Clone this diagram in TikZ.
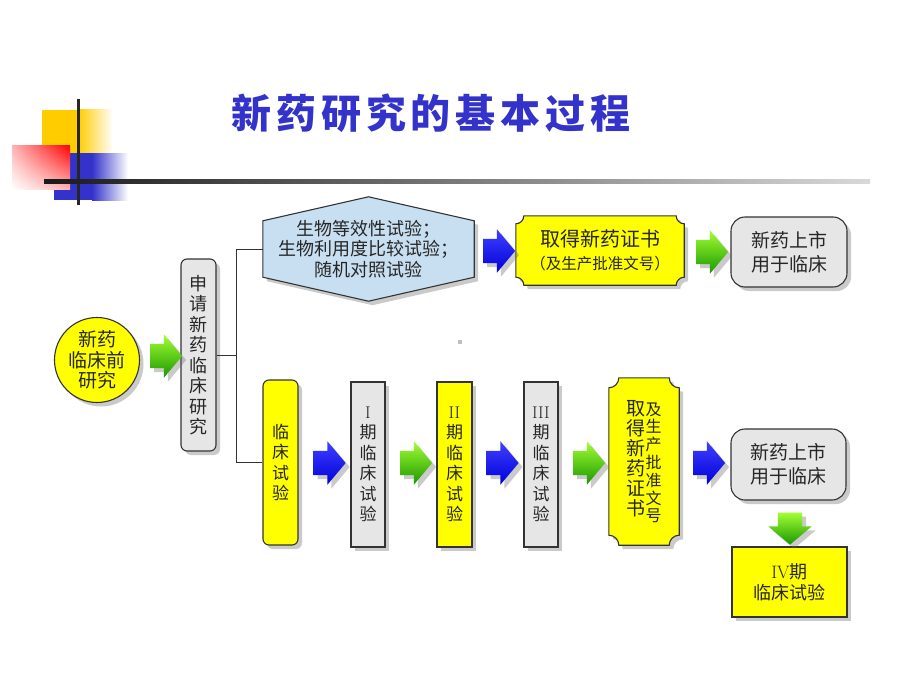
\documentclass[tikz,border=0pt]{standalone}
\usepackage{fontspec}
\newfontfamily\cjk{Noto Sans CJK SC}
\usetikzlibrary{shapes.arrows,shadows,shadings,backgrounds,calc}

\definecolor{boxyellow}{HTML}{FFFF00}
\definecolor{boxgray}{HTML}{E6E6E6}
\definecolor{hexblue}{HTML}{C8DFF2}
\definecolor{titleblue}{HTML}{3333CC}
\definecolor{decoyellow}{HTML}{FFCC00}
\definecolor{decoblue}{HTML}{3333CC}
\definecolor{edge}{HTML}{333333}

\tikzset{
  softshadow/.style={drop shadow={shadow xshift=4pt,shadow yshift=-4pt,opacity=0.35,fill=black!60}},
  box/.style={draw=edge,line width=1.1pt,softshadow,inner sep=0pt,text=black!85,align=center,
    font=\cjk\fontsize{17}{20.5}\selectfont},
  ybox/.style={box,fill=boxyellow},
  gbox/.style={box,fill=boxgray},
  blockarrow/.style={single arrow,minimum height=32pt,single arrow head extend=9.5pt,
    single arrow tip angle=100,inner sep=0pt,text height=12pt,text depth=12pt,softshadow},
  bluearrow/.style={blockarrow,top color=blue!75!white,bottom color=blue!85!black},
  greenarrow/.style={blockarrow,top color=green!45!yellow!80!white,bottom color=green!55!black!90!yellow},
  shapeline/.style={draw=edge,line width=1.1pt,softshadow},
  link/.style={draw=edge,line width=1pt}
}

% Bilhete com cantos concavos
\newcommand{\ticket}[2]{%
  \path[shapeline,fill=boxyellow] let \p1=(#1.north west), \p2=(#1.south east) in
    (\x1+#2,\y1) -- (\x2-#2,\y1)
    .. controls (\x2-#2,\y1-0.55*#2) and (\x2-0.55*#2,\y1-#2) .. (\x2,\y1-#2)
    -- (\x2,\y2+#2)
    .. controls (\x2-0.55*#2,\y2+#2) and (\x2-#2,\y2+0.55*#2) .. (\x2-#2,\y2)
    -- (\x1+#2,\y2)
    .. controls (\x1+#2,\y2+0.55*#2) and (\x1+0.55*#2,\y2+#2) .. (\x1,\y2+#2)
    -- (\x1,\y1-#2)
    .. controls (\x1+0.55*#2,\y1-#2) and (\x1+#2,\y1-0.55*#2) .. cycle;}
\newcommand{\vcol}[3]{\begin{minipage}[t]{#1pt}\centering\fontsize{#1}{#2}\selectfont #3\end{minipage}}

\begin{document}
\begin{tikzpicture}[x=1pt,y=-1pt]
    \useasboundingbox (0,0) rectangle (920,690);

    % Decoracao
    \fill[decoyellow] (42,110) rectangle (78,153);
    \shade[left color=decoyellow,right color=white] (78,110) rectangle (113,153);
    \fill[decoblue] (54,153) rectangle (92,200);
    \shade[left color=decoblue,right color=white] (92,153) rectangle (128,200);
    \shade[upper right=red,upper left=red!30,lower right=red!30,lower left=white] (12,145) rectangle (70,189);
    \fill[black!85] (76.5,99) rectangle (79.5,205);
    \shade[left color=black!90,right color=black!15] (44,179) rectangle (870,183);
    \fill[black!25] (458,340) rectangle (462,344);

    % Titulo
    \node[text=titleblue,font=\cjk\bfseries\fontsize{40}{40}\selectfont\addfontfeature{LetterSpace=12}]
        (title) at (431,113) {新药研究的基本过程};

    % Caixas
    \node[ybox,circle,minimum size=85pt,font=\cjk\fontsize{19}{20.5}\selectfont] (pre) at (97,360) {新药\\临床前\\研究};
    \node[gbox,rounded corners=6pt,minimum width=35pt,minimum height=192pt,
        font=\cjk\fontsize{18}{20.5}\selectfont] (apply) at (198.5,355) {申\\请\\新\\药\\临\\床\\研\\究};
    \node[minimum width=211pt,minimum height=104pt,align=center,text=black!85,
        font=\cjk\fontsize{18}{20.5}\selectfont] (hex) at (368.5,249) {生物等效性试验；\\生物利用度比较试验；\\随机对照试验};
    \node[minimum width=168pt,minimum height=69pt,align=center,text=black!85,
        font=\cjk\fontsize{20}{23}\selectfont] (cert) at (600,250.5) {取得新药证书\\{\fontsize{15.5}{18}\selectfont（及生产批准文号）}};
    \node[gbox,rounded corners=14pt,minimum width=116pt,minimum height=70pt,
        font=\cjk\fontsize{19}{24}\selectfont] (market) at (789,252) {新药上市\\用于临床};

    \node[ybox,rounded corners=6pt,minimum width=35pt,minimum height=165pt] (clin) at (280.5,462.5) {临\\床\\试\\验};
    \node[gbox,minimum width=34pt,minimum height=165pt] (ph1) at (368,464.5) {{\rmfamily I}\\期\\临\\床\\试\\验};
    \node[ybox,minimum width=35pt,minimum height=165pt] (ph2) at (454.5,464.5) {{\rmfamily II}\\期\\临\\床\\试\\验};
    \node[gbox,minimum width=34pt,minimum height=165pt] (ph3) at (541,464.5) {{\rmfamily III}\\期\\临\\床\\试\\验};
    \node[minimum width=70pt,minimum height=167pt,inner sep=0pt,text=black!85,font=\cjk] (cert2) at (644,461.5)
        {\vcol{19}{20}{取\\得\\新\\药\\证\\书}\vcol{16}{17.8}{及\\生\\产\\批\\准\\文\\号}};
    \node[gbox,rounded corners=14pt,minimum width=115pt,minimum height=71pt,
        font=\cjk\fontsize{19}{24}\selectfont] (market2) at (788.5,464.5) {新药上市\\用于临床};
    \node[ybox,minimum width=115pt,minimum height=70pt,
        font=\cjk\fontsize{18}{21}\selectfont] (ph4) at (789.5,582) {{\rmfamily IV}期\\临床试验};

    % Formas de fundo
    \begin{scope}[on background layer]
        \path[shapeline,fill=hexblue] let \p1=(hex.north west), \p2=(hex.south east), \p3=(hex.center) in
            (\x1,\y1-24pt) -- (\x3,\y1) -- (\x2,\y1-24pt) -- (\x2,\y2+24pt) -- (\x3,\y2) -- (\x1,\y2+24pt) -- cycle;
        \ticket{cert}{8pt}
        \ticket{cert2}{10pt}
    \end{scope}

    % Setas
    \node[greenarrow] (g0) at (161,356) {};
    \node[bluearrow] (b1) at (494,251) {};
    \node[greenarrow] (g1) at (707,252) {};
    \node[bluearrow] (b2) at (324.5,463) {};
    \node[greenarrow] (g2) at (411,463) {};
    \node[bluearrow] (b3) at (497.5,463) {};
    \node[greenarrow] (g3) at (584,463) {};
    \node[bluearrow] (b4) at (704,463) {};
    \node[greenarrow,rotate=-90] (g4) at (790,523.5) {};

    % Ligacoes
    \coordinate (jn) at ([xshift=20pt]apply.east);
    \draw[link] (apply.east) -- (jn);
    \draw[link] (hex.west) -| (jn) |- (clin.west);
\end{tikzpicture}
\end{document}
